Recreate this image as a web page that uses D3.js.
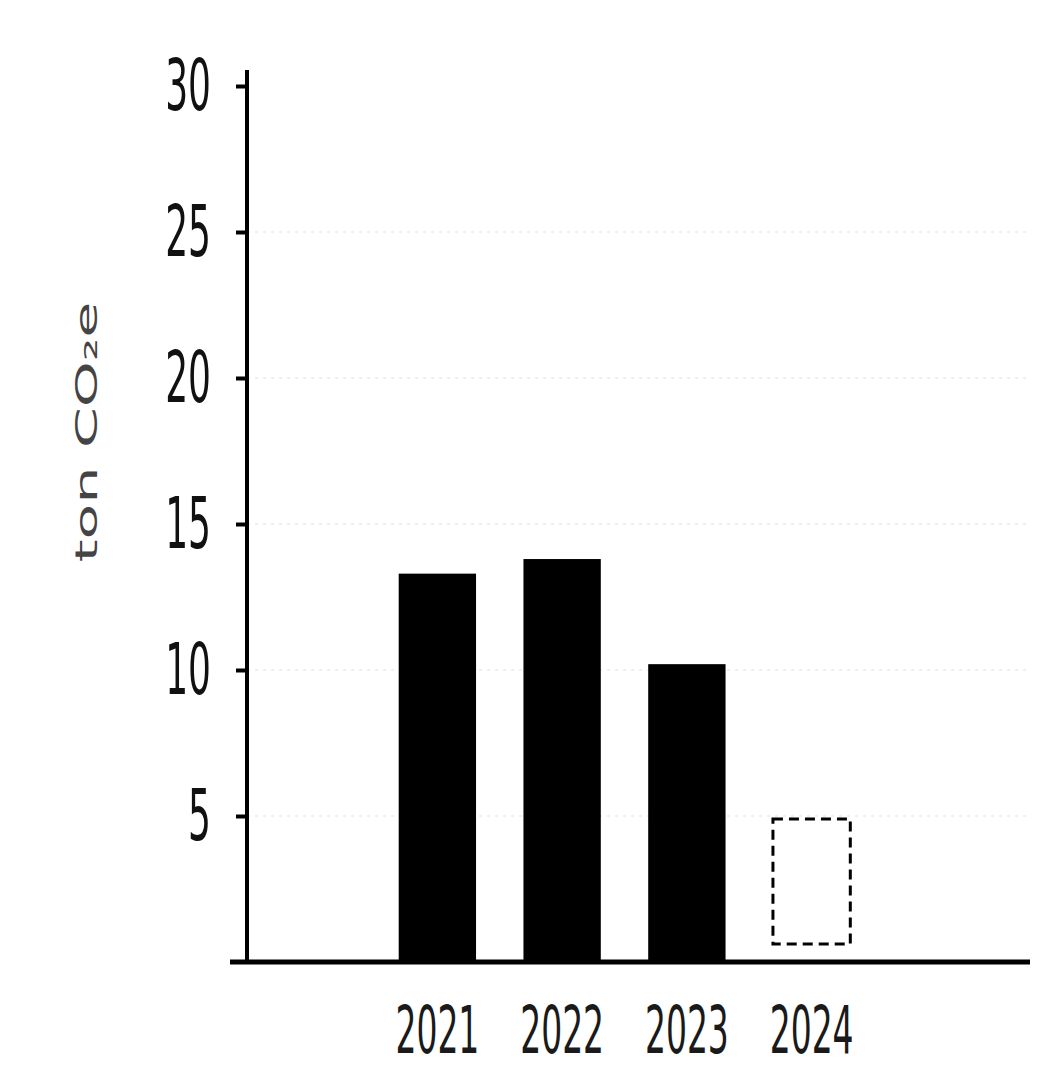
<!DOCTYPE html>
<html>
<head>
<meta charset="utf-8">
<script src="https://cdn.jsdelivr.net/npm/d3@7"></script>
<style>
  body { margin: 0; background: #fff; }
  text { font-family: "DejaVu Sans", sans-serif; }
</style>
</head>
<body>
<div id="chart"></div>
<script>
// values
var years = ['2021', '2022', '2023', '2024'];
var emissions = [13.3, 13.8, 10.2, 4.9];
var isEstimate = [false, false, false, true];
var yTicks = [5, 10, 15, 20, 25, 30];

var svgWidth = 1040;
var svgHeight = 1068;

var margin = {
    top: 86,
    right: 10,
    bottom: 106,
    left: 247
};

var height = svgHeight - margin.top - margin.bottom;

var svg = d3.select('#chart')
    .append('svg')
    .attr('width', svgWidth)
    .attr('height', svgHeight);

var data = years.map(function(y, i) {
    return { year: y, value: emissions[i], estimate: isEstimate[i] };
});

var xBandScale = d3.scaleBand()
    .domain(years)
    .range([375, 874])
    .paddingInner(0.38)
    .paddingOuter(0.19);

var yLinearScale = d3.scaleLinear()
    .domain([0, 30])
    .range([margin.top + height, margin.top]);

// faint grid lines (mostly washed out in the picture)
svg.append('g')
    .selectAll('line')
    .data(yTicks.slice(0, 5))
    .enter()
    .append('line')
    .attr('x1', margin.left)
    .attr('x2', svgWidth - margin.right)
    .attr('y1', d => yLinearScale(d))
    .attr('y2', d => yLinearScale(d))
    .attr('stroke', '#efefef')
    .attr('stroke-width', 2)
    .attr('stroke-dasharray', '3,5');

// bars
svg.selectAll('rect.bar')
    .data(data)
    .enter()
    .append('rect')
    .attr('class', 'bar')
    .attr('x', d => xBandScale(d.year))
    .attr('y', d => yLinearScale(d.value))
    .attr('width', xBandScale.bandwidth())
    .attr('height', d => yLinearScale(0) - yLinearScale(d.value) - (d.estimate ? 18 : 0))
    .attr('fill', d => d.estimate ? '#fff' : '#000')
    .attr('stroke', d => d.estimate ? '#000' : 'none')
    .attr('stroke-width', 3)
    .attr('stroke-dasharray', d => d.estimate ? '10,6' : null);

// y axis
var leftAxis = d3.axisLeft(yLinearScale)
    .tickValues(yTicks)
    .tickSize(11)
    .tickSizeOuter(0);

var yAxisGroup = svg.append('g')
    .attr('transform', `translate(${margin.left}, 0)`)
    .call(leftAxis);

yAxisGroup.select('.domain')
    .attr('stroke-width', 4)
    .attr('d', `M0,${yLinearScale(30) - 16}V${yLinearScale(0)}`);

yAxisGroup.selectAll('.tick line')
    .attr('stroke-width', 4);

yAxisGroup.selectAll('.tick text')
    .attr('x', -36)
    .attr('font-size', 36)
    .attr('fill', '#111')
    .attr('transform', 'scale(1,2)');

// baseline
svg.append('line')
    .attr('x1', 230)
    .attr('x2', svgWidth - margin.right)
    .attr('y1', yLinearScale(0))
    .attr('y2', yLinearScale(0))
    .attr('stroke', '#000')
    .attr('stroke-width', 5);

// x axis labels
var bottomAxis = d3.axisBottom(xBandScale).tickSize(0);

var xAxisGroup = svg.append('g')
    .attr('transform', `translate(0, ${yLinearScale(0)})`)
    .call(bottomAxis);

xAxisGroup.select('.domain').remove();

xAxisGroup.selectAll('.tick text')
    .attr('y', 45.5)
    .attr('dy', 0)
    .attr('font-size', 33)
    .attr('fill', '#1a1a1a')
    .attr('transform', 'scale(1,2)');

// y axis title
svg.append('text')
    .attr('transform', 'translate(86, 432) scale(1,1.95) rotate(-90)')
    .attr('text-anchor', 'middle')
    .attr('dy', '0.35em')
    .attr('font-size', 30)
    .attr('fill', '#444')
    .text('ton CO₂e');
</script>
</body>
</html>
